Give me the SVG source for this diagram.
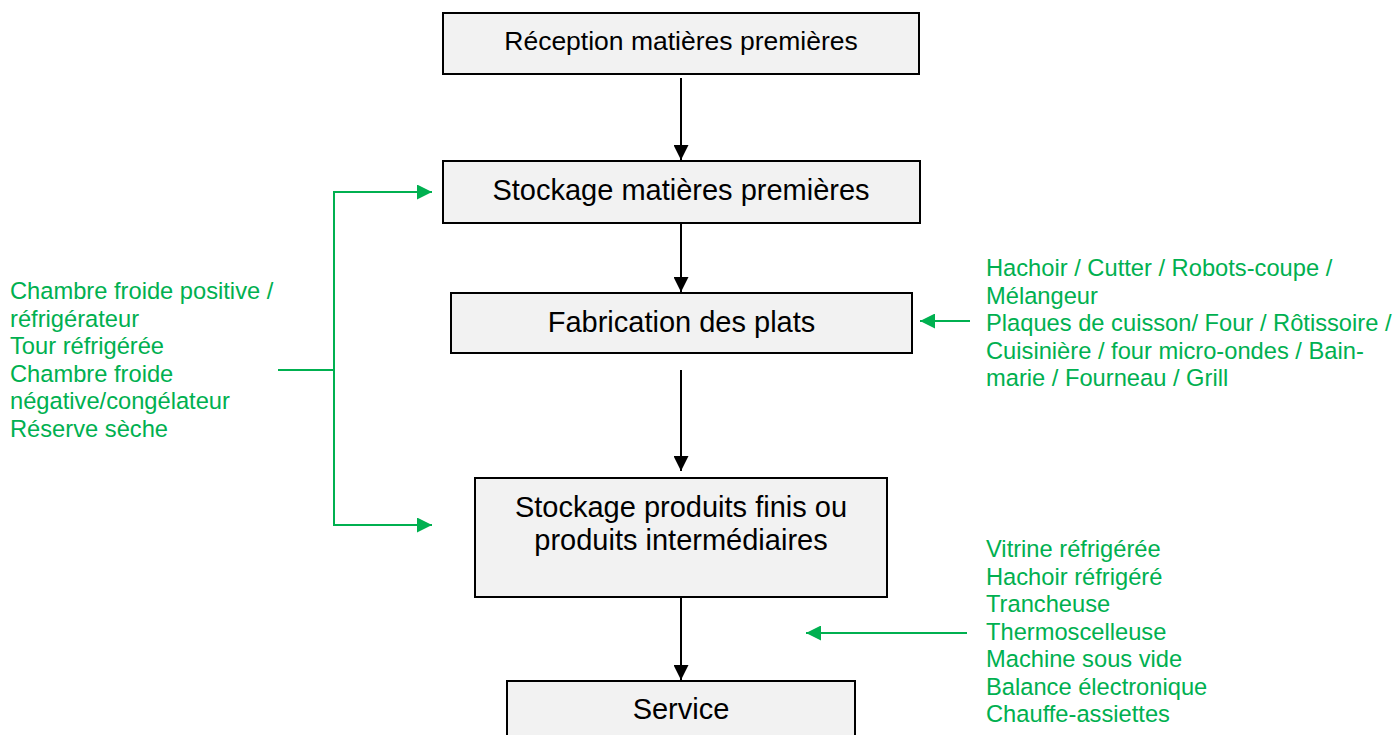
<svg xmlns="http://www.w3.org/2000/svg" width="1400" height="735" viewBox="0 0 1400 735">
  <defs>
    <marker id="arrow-black" viewBox="0 0 10 10" refX="10" refY="5" markerWidth="15" markerHeight="15" markerUnits="userSpaceOnUse" orient="auto">
      <path d="M0,0 L10,5 L0,10 Z" fill="#000"/>
    </marker>
    <marker id="arrow-green" viewBox="0 0 10 10" refX="10" refY="5" markerWidth="15" markerHeight="15" markerUnits="userSpaceOnUse" orient="auto">
      <path d="M0,0 L10,5 L0,10 Z" fill="#00b050"/>
    </marker>
  </defs>
  <style>
    .box { fill: #f2f2f2; stroke: #000; stroke-width: 2; }
    .label { font-family: "Liberation Sans", Arial, sans-serif; font-size: 29px; fill: #000; text-anchor: middle; }
    .note { font-family: "Liberation Sans", Arial, sans-serif; font-size: 23.7px; fill: #00b050; }
    .flow { stroke: #000; stroke-width: 2; fill: none; marker-end: url(#arrow-black); }
    .feed { stroke: #00b050; stroke-width: 2; fill: none; }
    .feed-arrow { stroke: #00b050; stroke-width: 2; fill: none; marker-end: url(#arrow-green); }
  </style>
  <rect width="1400" height="735" fill="#fff"/>

  <!-- process steps -->
  <g id="reception">
    <rect class="box" x="443" y="13" width="476" height="61"/>
    <text class="label" x="681" y="50" style="font-size:26.5px">Réception matières premières</text>
  </g>
  <g id="stockage-mp">
    <rect class="box" x="443" y="161" width="477" height="62"/>
    <text class="label" x="681" y="200">Stockage matières premières</text>
  </g>
  <g id="fabrication">
    <rect class="box" x="451" y="293" width="461" height="60"/>
    <text class="label" x="681.5" y="332">Fabrication des plats</text>
  </g>
  <g id="stockage-pf">
    <rect class="box" x="475" y="478" width="412" height="119"/>
    <text class="label" x="681" y="517">Stockage produits finis ou</text>
    <text class="label" x="681" y="550">produits intermédiaires</text>
  </g>
  <g id="service">
    <rect class="box" x="507" y="681" width="348" height="60"/>
    <text class="label" x="681" y="719">Service</text>
  </g>

  <!-- equipment lists -->
  <g id="equipement-stockage">
    <text class="note" x="10" y="299.3">Chambre froide positive /</text>
    <text class="note" x="10" y="326.8">réfrigérateur</text>
    <text class="note" x="10" y="354.3">Tour réfrigérée</text>
    <text class="note" x="10" y="381.8">Chambre froide</text>
    <text class="note" x="10" y="409.3">négative/congélateur</text>
    <text class="note" x="10" y="436.8">Réserve sèche</text>
  </g>
  <g id="equipement-fabrication">
    <text class="note" x="986" y="276">Hachoir / Cutter / Robots-coupe /</text>
    <text class="note" x="986" y="303.5">Mélangeur</text>
    <text class="note" x="986" y="331">Plaques de cuisson/ Four / Rôtissoire /</text>
    <text class="note" x="986" y="358.5">Cuisinière / four micro-ondes / Bain-</text>
    <text class="note" x="986" y="386">marie / Fourneau / Grill</text>
  </g>
  <g id="equipement-service">
    <text class="note" x="986" y="557">Vitrine réfrigérée</text>
    <text class="note" x="986" y="584.5">Hachoir réfrigéré</text>
    <text class="note" x="986" y="612">Trancheuse</text>
    <text class="note" x="986" y="639.5">Thermoscelleuse</text>
    <text class="note" x="986" y="667">Machine sous vide</text>
    <text class="note" x="986" y="694.5">Balance électronique</text>
    <text class="note" x="986" y="722">Chauffe-assiettes</text>
  </g>

  <!-- connectors -->
  <g id="connectors">
    <line class="flow" x1="681" y1="78" x2="681" y2="160"/>
    <line class="flow" x1="681" y1="223" x2="681" y2="292"/>
    <line class="flow" x1="681" y1="370" x2="681" y2="471"/>
    <line class="flow" x1="681" y1="597" x2="681" y2="680"/>

    <!-- bracket feeding both storage steps -->
    <line class="feed" x1="278" y1="370" x2="334" y2="370"/>
    <line class="feed" x1="334" y1="192" x2="334" y2="525"/>
    <line class="feed-arrow" x1="333" y1="192" x2="432" y2="192"/>
    <line class="feed-arrow" x1="333" y1="525" x2="432" y2="525"/>

    <line class="feed-arrow" x1="970" y1="321" x2="920" y2="321"/>
    <line class="feed-arrow" x1="967" y1="633" x2="806" y2="633"/>
  </g>
</svg>
